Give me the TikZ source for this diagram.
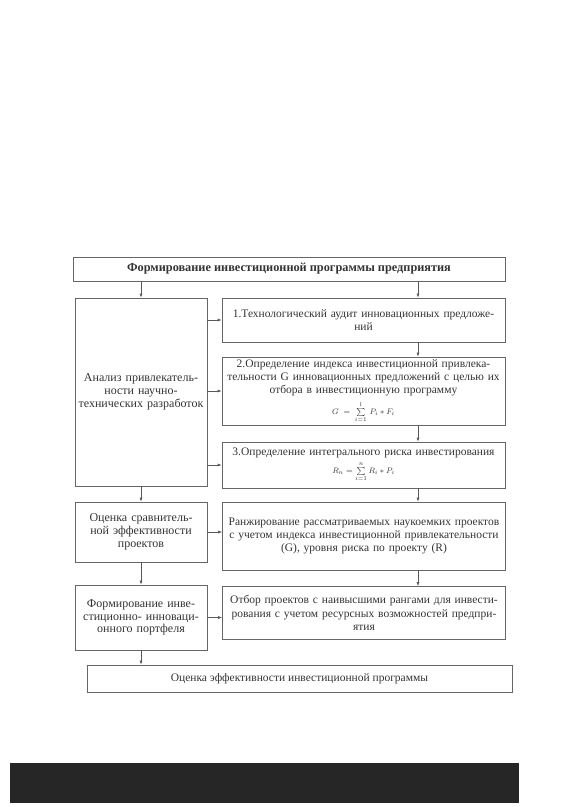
\documentclass[tikz,border=0pt]{standalone}
\usepackage{fontspec}
\setmainfont{Liberation Serif}
\usepackage{amsmath}
\usetikzlibrary{arrows.meta}

\begin{document}
\begin{tikzpicture}[
    x=1pt, y=-1pt,
    font=\fontsize{11.5}{13.2}\selectfont,
    block/.style={
        draw=black!60,
        line width=0.6pt,
        align=center,
        inner sep=1pt,
        text=black!80
    },
    leftblock/.style={
        block,
        font=\fontsize{12}{12.8}\selectfont,
        minimum width=132pt,
        text width=130pt
    },
    rightblock/.style={
        block,
        minimum width=283pt,
        text width=281pt
    },
    line/.style={draw=black!65, line width=0.6pt, -{Latex[length=4pt,width=3pt]}}
]
\useasboundingbox (0,0) rectangle (563,807);

% title and result
\node[block, minimum width=432pt, minimum height=24pt, font=\fontsize{12.3}{14}\selectfont\bfseries] (title) at (289,269)
{Формирование инвестиционной программы предприятия};

\node[block, minimum width=425pt, minimum height=27pt] (result) at (299.5,678.5)
{Оценка эффективности инвестиционной программы};

% left column
\node[leftblock, minimum height=188pt] (analysis) at (141,392)
{Анализ привлекатель-\\ности научно-\\технических разработок};

\node[leftblock, minimum height=60pt] (compare) at (141,532)
{Оценка сравнитель-\\ной эффективности\\проектов};

\node[leftblock, minimum height=65pt] (portfolio) at (141,617.5)
{Формирование инве-\\стиционно- инноваци-\\онного портфеля};

% right column
\node[rightblock, minimum height=44pt] (audit) at (363.5,320)
{1.Технологический аудит инновационных предложе-\\ний};

\node[rightblock, minimum height=68pt] (index) at (363.5,391)
{2.Определение индекса инвестиционной привлека-\\тельности G инновационных предложений с целью их\\отбора в инвестиционную программу\\[4pt]
\mbox{\fontsize{8.5}{9}\selectfont $G \;=\; \sum\limits_{i=1}^{l}\, P_i \ast F_i$}};

\node[rightblock, minimum height=46pt] (risk) at (363.5,465)
{3.Определение интегрального риска инвестирования\\[3pt]
\mbox{\fontsize{8.5}{9}\selectfont $R_n = \sum\limits_{i=1}^{n} R_i \ast P_i$}};

\node[rightblock, minimum height=68pt] (ranking) at (364,536)
{Ранжирование рассматриваемых наукоемких проектов\\с учетом индекса инвестиционной привлекательности\\(G), уровня риска по проекту (R)};

\node[rightblock, minimum height=53pt] (selection) at (364,613)
{Отбор проектов с наивысшими рангами для инвести-\\рования с учетом ресурсных возможностей предпри-\\ятия};

\coordinate (rcol) at (418,0);

% connectors
\draw[line] (title.south -| analysis.north) -- (analysis.north);
\draw[line] (title.south -| rcol) -- (audit.north -| rcol);
\draw[line] (audit.south -| rcol) -- (index.north -| rcol);
\draw[line] (index.south -| rcol) -- (risk.north -| rcol);
\draw[line] (risk.south -| rcol) -- (ranking.north -| rcol);
\draw[line] (ranking.south -| rcol) -- (selection.north -| rcol);

\draw[line] (analysis.east |- audit.west) -- (audit.west);
\draw[line] (analysis.east |- index.west) -- (index.west);
\draw[line] (analysis.east |- risk.west) -- (risk.west);
\draw[line] (compare.east) -- (compare.east -| ranking.west);
\draw[line] (portfolio.east) -- (portfolio.east -| selection.west);

\draw[line] (analysis.south) -- (compare.north);
\draw[line] (compare.south) -- (portfolio.north);
\draw[line] (portfolio.south) -- (portfolio.south |- result.north);

% dark strip at the foot of the page
\fill[black!85] (10,763) rectangle (519,803);
\end{tikzpicture}
\end{document}
